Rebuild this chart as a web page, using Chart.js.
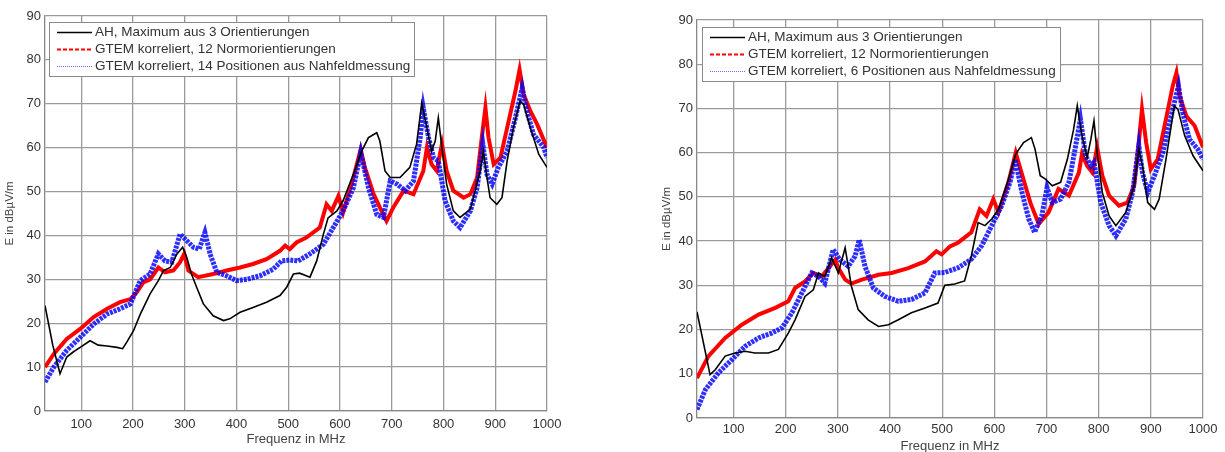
<!DOCTYPE html>
<html><head><meta charset="utf-8">
<script src="https://cdn.jsdelivr.net/npm/chart.js@4/dist/chart.umd.min.js"></script>
<style>
html,body{margin:0;padding:0;background:#fff;width:1225px;height:452px;overflow:hidden}
#c1{position:absolute;left:0;top:0;width:600px;height:452px}
#c2{position:absolute;left:650px;top:0;width:575px;height:456px}
</style></head><body>
<canvas id="c1" width="600" height="452"></canvas>
<canvas id="c2" width="575" height="456"></canvas>
<script>
// ---------- data ----------
const xTicks = [100,200,300,400,500,600,700,800,900,1000];
const seriesNames = ['AH, Maximum aus 3 Orientierungen','GTEM korreliert, 12 Normorientierungen'];
const blueNameLeft = 'GTEM korreliert, 14 Positionen aus Nahfeldmessung';
const blueNameRight = 'GTEM korreliert, 6 Positionen aus Nahfeldmessung';

// left chart
const leftAH_f = [30,45,59,72,85,98,117,133,150,169,180,188,201,214,233,249,259,272,285,296,304,313,323,336,355,375,387,407,432,458,484,497,510,522,542,555,568,577,594,606,626,642,655,671,677,687,697,716,735,748,758,768,777,784,790,797,806,819,832,852,871,877,884,890,903,913,923,935,948,955,968,984,1000];
const leftAH_v = [24,15,8.5,12.3,13.5,14.5,16,15,14.8,14.5,14.2,15.7,18.3,22,26.7,29.7,32,32.7,35.8,37.3,35,31.2,28.2,24.4,21.7,20.6,21,22.5,23.6,24.8,26.3,28.2,31.2,31.4,30.5,34.2,40.3,44,45.6,47.9,54,59.2,62.3,63.4,61.5,54.7,53.2,53.2,55.5,60.8,70.2,64.5,59.2,61.5,66.8,60,51.7,45.6,44.1,46,54.7,59.2,53.2,48.6,47.1,48.6,57,64.5,70.6,69.8,64.5,58.5,55.5];
const leftG12_f = [30,47,72,98,124,150,175,195,207,220,233,249,262,278,291,299,307,326,355,381,407,432,458,484,494,503,516,535,561,574,584,597,606,626,640,648,665,677,690,703,723,742,761,768,777,787,797,806,819,839,852,865,874,881,887,897,910,926,939,947,955,968,981,1000];
const leftG12_v = [10,13,16.4,18.7,21.4,23.3,24.8,25.5,27,29.3,30,32.7,31.6,32,33.9,35.8,32,30.5,31.2,32,32.7,33.5,34.6,36.5,37.7,36.9,38.4,39.5,41.8,47.1,45.6,49,45.2,53.2,59.6,55.5,49.4,46.4,43.3,46.4,50.2,49.4,54.7,60,56.2,54.7,60.8,54.7,50.2,48.6,49.4,53.2,62.3,69.1,62.3,56.2,57.7,66.1,72.9,77.8,72.1,68.3,65.3,60];
const leftNF_f = [30,47,72,98,124,150,175,195,214,233,249,262,275,291,304,317,328,339,349,362,381,400,420,445,471,487,503,519,542,568,587,606,626,640,655,671,684,697,710,726,742,755,761,771,781,790,803,819,832,852,865,876,884,894,906,923,939,952,961,974,994,1000];
const leftNF_v = [6.6,10,13.8,16.8,19.8,22.1,23.3,24.4,29.7,31.2,35.8,34.2,33.9,40.3,38.8,37.3,36.9,40.7,35.8,31.6,30.8,29.7,30,30.8,32.3,34.2,34.4,34.2,35.8,38,41.8,45.6,50.9,58.9,50.9,44.8,44.1,52.4,51.7,50.2,52.4,62.3,69,62.3,57.7,57,47.9,43.3,41.8,45.6,50.9,60.8,53.9,51.7,55.5,59.2,66.8,73.6,68.3,63,60,57.7];

// right chart
const rightAH_f = [30,55,65,84,103,122,141,167,186,205,218,237,253,263,275,288,301,314,326,339,358,378,397,416,441,467,492,505,524,543,556,569,582,595,608,627,641,656,671,678,688,698,711,727,740,752,759,768,778,785,791,797,807,820,833,852,868,877,884,894,907,916,929,945,952,965,981,1000];
const rightAH_v = [24,9.8,10.9,14,14.7,15.1,14.7,14.7,15.5,19.2,22.2,27.5,29,32.8,32,36.2,32.8,38.5,29.8,24.5,22.2,20.7,21.1,22.2,23.8,24.9,26,30,30.3,31,36.7,44.2,43.5,45,47.2,54,59.7,62.3,63.4,60.8,54.8,54,52.5,53.3,58.5,65.3,70.6,63.8,58.9,63,67.2,60,51,45.7,43.5,46.5,52.5,60.8,57,48.7,47.2,49.5,58.5,70.6,69.8,63.8,59.3,55.9];
const rightG12_f = [30,52,84,116,148,180,205,218,237,253,269,285,295,301,314,326,346,378,403,435,467,489,499,515,531,556,572,585,598,608,627,641,652,669,685,704,723,743,762,768,778,788,797,807,820,839,855,868,877,883,891,900,913,929,942,949,955,968,984,1000];
const rightG12_v = [9,14,18.1,21.1,23.4,24.9,26.4,29.4,30.9,32.8,32,34.3,35.8,33.9,31.3,30.4,31.3,32.4,32.8,33.9,35.4,37.7,37,38.8,39.7,42,47.2,45.7,49.5,46.5,53.3,60,55.5,48.7,43.9,46.5,51.8,50.3,55.5,59.7,57,55.5,61.2,54.8,50.3,48,48.7,52.5,62.3,69.8,62.3,56.3,58.5,67.6,75.1,78.1,72.9,68.3,66.1,61.2];
const rightNF_f = [30,46,71,97,122,148,173,193,212,231,250,263,275,291,304,320,333,341,352,368,390,416,441,467,486,505,531,556,576,595,614,630,640,653,666,677,691,701,711,727,743,756,765,775,785,791,804,820,833,852,865,877,884,894,907,923,939,953,961,974,990,1000];
const rightNF_v = [1.9,6.4,10.2,13.2,16.2,18.1,19.2,20.4,23.8,28.3,32.8,32,30.5,38.1,35.8,34.3,36.6,40.3,34.3,29.4,27.5,26.4,26.8,28.3,32.8,32.9,34,35.9,39,43.5,48,53.3,58.5,51,45,42,45.7,52.1,48.7,49.5,53.3,61.6,67.6,59.3,57,57.8,48.7,43.5,41.2,45,51,61.6,55.5,51,54.8,60,68.3,75.1,69.1,63,60.8,58.5];

// ---------- helpers ----------
const FAM = '"Liberation Sans", Arial, sans-serif';
const pts = (f, v) => f.map((x, i) => ({x, y: v[i]}));

const boxLegend = {
  id: 'boxLegend',
  afterDatasetsDraw(chart, args, opts) {
    const ctx = chart.ctx, a = chart.chartArea;
    ctx.save();
    ctx.font = '13.5px ' + FAM;
    const ds = chart.data.datasets;
    const tw = Math.max(...ds.map(d => ctx.measureText(d.label).width));
    const x0 = a.left + opts.dx, y0 = a.top + opts.dy;
    const w = Math.round(46 + tw + 4), h = 54;
    ctx.fillStyle = '#fff';
    ctx.fillRect(x0, y0, w, h);
    ctx.strokeStyle = '#8a8a8a'; ctx.lineWidth = 1;
    ctx.strokeRect(x0 + 0.5, y0 + 0.5, w, h);
    const sty = [['#000', 1.6, []], ['#ff0000', 1.8, [4, 2]], ['#6a6aff', 1, [1, 1]]];
    ds.forEach((d, i) => {
      const y = y0 + 10.5 + i * 17;
      ctx.strokeStyle = sty[i][0]; ctx.lineWidth = sty[i][1]; ctx.setLineDash(sty[i][2]);
      ctx.beginPath(); ctx.moveTo(x0 + 8, y); ctx.lineTo(x0 + 43, y); ctx.stroke();
      ctx.setLineDash([]);
      ctx.fillStyle = '#333'; ctx.textBaseline = 'middle'; ctx.textAlign = 'left';
      ctx.fillText(d.label, x0 + 46, y);
    });
    ctx.restore();
  }
};

function makeChart(id, blackF, blackV, redF, redV, blueF, blueV, blueName, pad, yW, xH, tickPad, titlePad, yTitlePad, leg) {
  return new Chart(document.getElementById(id), {
    type: 'line',
    data: {
      datasets: [
        {label: seriesNames[0], data: pts(blackF, blackV), borderColor: '#000', borderWidth: 1.6, pointRadius: 0, tension: 0, order: 1},
        {label: seriesNames[1], data: pts(redF, redV), borderColor: '#ff0000', borderWidth: 4, pointRadius: 0, tension: 0, order: 3},
        {label: blueName, data: pts(blueF, blueV), borderColor: 'rgba(0,0,255,0.82)', borderWidth: 5, borderDash: [3, 1], pointRadius: 0, tension: 0, order: 2}
      ]
    },
    options: {
      responsive: false, animation: false, devicePixelRatio: 1,
      layout: {padding: pad},
      plugins: {legend: {display: false}, tooltip: {enabled: false}, boxLegend: leg},
      scales: {
        x: {
          type: 'linear', min: 30, max: 1000,
          afterBuildTicks: s => { s.ticks = xTicks.map(v => ({value: v})); },
          afterFit: s => { s.height = xH; },
          grid: {color: '#9a9a9a', lineWidth: 1.3, drawTicks: false},
          border: {color: '#888', width: 1.3},
          ticks: {color: '#333', font: {size: 13, family: FAM}, padding: tickPad, maxRotation: 0, autoSkip: false, callback: v => String(v)},
          title: {display: true, text: 'Frequenz in MHz', color: '#444', font: {size: 13, family: FAM}, padding: {top: 0, bottom: titlePad}}
        },
        y: {
          min: 0, max: 90,
          afterFit: s => { s.width = yW; },
          grid: {color: '#9a9a9a', lineWidth: 1.3, drawTicks: false},
          border: {color: '#888', width: 1.3},
          ticks: {stepSize: 10, color: '#333', font: {size: 13, family: FAM}, padding: 4, callback: v => String(v)},
          title: {display: true, text: 'E in dBµV/m', color: '#444', font: {size: 11.5, family: FAM}, padding: {top: yTitlePad, bottom: 0}}
        }
      }
    },
    plugins: [boxLegend]
  });
}

makeChart('c1', leftAH_f, leftAH_v, leftG12_f, leftG12_v, leftNF_f, leftNF_v, blueNameLeft,
  {top: 16, right: 53, left: 0, bottom: 0}, 45, 41, 6, 5, 3, {dx: 4, dy: 6});
makeChart('c2', rightAH_f, rightAH_v, rightG12_f, rightG12_v, rightNF_f, rightNF_v, blueNameRight,
  {top: 20, right: 22, left: 0, bottom: 0}, 47, 38, 4, 2, 10, {dx: 5, dy: 7});
</script>
</body></html>
